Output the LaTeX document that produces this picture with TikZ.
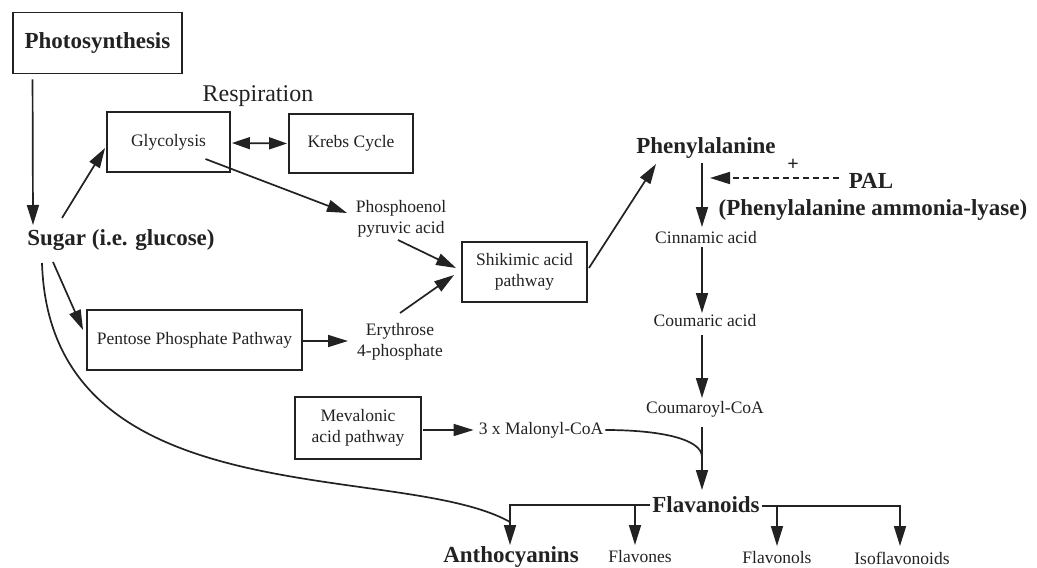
\documentclass[tikz,border=0pt]{standalone}
\usepackage{fontspec}
\setmainfont{Liberation Serif}
\usetikzlibrary{arrows.meta,calc}
\definecolor{ink}{HTML}{222222}
\begin{document}
\begin{tikzpicture}[x=1pt,y=-1pt,
  every node/.style={text=ink, inner sep=0pt, align=center},
  box/.style={draw=ink, line width=1.9pt},
  sm/.style={font=\fontsize{17.5}{21}\selectfont},
  bigb/.style={font=\fontsize{23}{26}\selectfont\bfseries},
  ln/.style={draw=ink, line width=1.7pt},
  arr/.style={ln, -{Triangle[length=20pt,width=12pt]}},
  darr/.style={ln, {Triangle[length=18pt,width=12pt]}-{Triangle[length=18pt,width=12pt]}},
  dasharr/.style={arr, dash pattern=on 6pt off 4pt}
]
\useasboundingbox (0,0) rectangle (1037,568);

% boxes
\node[box, bigb, minimum width=169pt, minimum height=61pt] (photo) at (97.5,43) {Photosynthesis};
\node[font=\fontsize{24}{28}\selectfont] (resp) at (258,96) {Respiration};
\node[box, sm, minimum width=123pt, minimum height=60pt] (glyc) at (168.5,142) {Glycolysis};
\node[box, sm, minimum width=124pt, minimum height=59pt] (krebs) at (351,143.5) {Krebs Cycle};
\node[box, sm, minimum width=125pt, minimum height=60pt] (shik) at (524.5,272) {Shikimic acid\\pathway};
\node[box, sm, minimum width=215pt, minimum height=60pt] (pent) at (194.5,340) {Pentose Phosphate Pathway};
\node[box, sm, minimum width=126pt, minimum height=62pt] (meval) at (358,428) {Mevalonic\\acid pathway};

% plain labels
\node[bigb] (sugar) at (121,240) {Sugar (i.e. glucose)};
\node[sm] (phos) at (401,219) {Phosphoenol\\pyruvic acid};
\node[sm] (eryth) at (400,342) {Erythrose\\4-phosphate};
\node[sm] (malonyl) at (541,430) {3 x Malonyl-CoA};
\node[bigb] (phenyl) at (706,148) {Phenylalanine};
\node[font=\fontsize{20}{22}\selectfont\bfseries] (plus) at (793,165) {+};
\node[bigb] (pal) at (871,181) {PAL};
\node[bigb] (palname) at (873,210) {(Phenylalanine ammonia-lyase)};
\node[sm] (cinn) at (706,238) {Cinnamic acid};
\node[sm] (coumaric) at (705,321) {Coumaric acid};
\node[sm] (coumaroyl) at (705,409) {Coumaroyl-CoA};
\node[bigb] (flav) at (706,505) {Flavanoids};
\node[bigb] (antho) at (511,557) {Anthocyanins};
\node[sm] (flavones) at (640,557) {Flavones};
\node[sm] (flavonols) at (777,558) {Flavonols};
\node[sm] (isoflav) at (902,558) {Isoflavonoids};

% connectors
\draw[arr] ($(photo.south west)+(20.5,5)$) -- ($(sugar)+(-88,-15)$);
\draw[arr] ($(sugar)+(-59,-22)$) -- ($(glyc.west)+(-1,6)$);
\draw[arr] ($(glyc)+(37,17)$) -- ($(phos)+(-54,-6)$);
\draw[darr] ($(glyc.east)+(1,1)$) -- ($(krebs.west)+(-1,0)$);
\draw[arr] ($(phos)+(-3,21)$) -- ($(shik.west)+(-5,-4)$);
\draw[arr] ($(eryth)+(0,-29)$) -- ($(shik.west)+(-7,3)$);
\draw[arr] ($(sugar)+(-68,22)$) -- ($(pent.west)+(-3,-10)$);
\draw[arr] ($(pent.east)+(0,1)$) -- ($(eryth)+(-52,-1)$);
\draw[arr] ($(meval.east)+(1,2)$) -- ($(malonyl.west)+(-5,0)$);
\draw[ln] ($(malonyl.east)+(2,0)$) .. controls ($(malonyl.east)+(57,0)$) and ($(coumaroyl)+(-3,30)$) .. ($(coumaroyl)+(-3,48)$);
\draw[arr] ($(coumaroyl)+(-3,18)$) -- ($(flav)+(-4,-15)$);
\draw[ln] ($(sugar)+(-79,23)$) .. controls ($(sugar)+(-71,280)$) and ($(antho)+(-111,-97)$) .. ($(antho)+(-1,-35)$);
\draw[arr] ($(flav.west)+(-2,0)$) -| ($(antho)+(-1,-12)$);
\draw[arr] ($(flavones)+(-5,-52)$) -- ($(flavones)+(-5,-12)$);
\draw[arr] ($(flav.east)+(2,1)$) -| ($(isoflav)+(-2,-12)$);
\draw[arr] ($(flavonols)+(0,-52)$) -- ($(flavonols)+(0,-12)$);
\draw[arr] ($(shik.east)+(1,-4)$) -- ($(phenyl)+(-50,16)$);
\draw[arr] ($(phenyl)+(-4,15)$) -- ($(cinn)+(-4,-11)$);
\draw[dasharr] ($(pal.west)+(-10,-3)$) -- ($(phenyl)+(4,30)$);
\draw[arr] ($(cinn)+(-4,9)$) -- ($(coumaric)+(-3,-8)$);
\draw[arr] ($(coumaric)+(-3,14)$) -- ($(coumaroyl)+(-3,-11)$);
\end{tikzpicture}
\end{document}
